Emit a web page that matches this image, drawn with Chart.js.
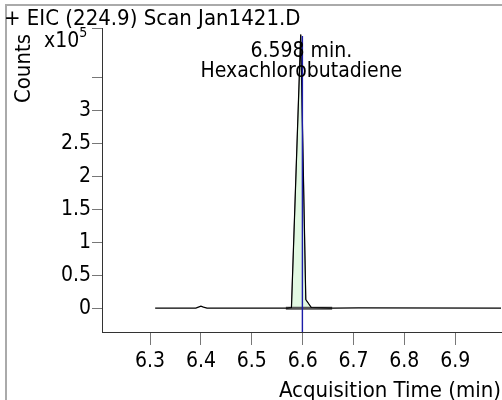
<!DOCTYPE html>
<html>
<head>
<meta charset="utf-8">
<script src="https://cdn.jsdelivr.net/npm/chart.js@4.4.0/dist/chart.umd.min.js"></script>
<style>
  html, body { margin: 0; padding: 0; background: #fff; }
  #wrap { width: 502px; height: 400px; position: relative; }
</style>
</head>
<body>
<div id="wrap"><canvas id="eic"></canvas></div>
<script>
// EIC trace, counts in units of 1e5
var times  = [6.310, 6.390, 6.395, 6.400, 6.405, 6.412, 6.570, 6.578, 6.5962, 6.6062, 6.617, 6.660, 6.710, 6.990];
var counts = [0.01, 0.01, 0.025, 0.04, 0.025, 0.01, 0.01, 0.02, 4.14, 0.14, 0.02, 0.01, 0.015, 0.01];

// integrated peak region (shaded)
var peakTimes  = [6.578, 6.5962, 6.6062, 6.617];
var peakCounts = [0.02, 4.14, 0.14, 0.02];

// integration baseline
var baseTimes  = [6.567, 6.658];
var baseCounts = [0.01, 0.01];

var peakRT = 6.5995;
var peakTop = 4.12;
var peakLabel = ['6.598 min.', 'Hexachlorobutadiene'];
var titleText = '+ EIC (224.9) Scan Jan1421.D';

var xTicks = [6.3, 6.4, 6.5, 6.6, 6.7, 6.8, 6.9];
var yTicks = [0, 0.5, 1, 1.5, 2, 2.5, 3, 3.5];
var xMin = 6.2055, xMax = 6.99;
var yMin = -0.35, yMax = 4.24;

var FONT = "'DejaVu Sans Condensed', 'DejaVu Sans', sans-serif";
var FS = 21;

function pts(xs, ys) {
  return xs.map(function(x, i){ return {x: x, y: ys[i]}; });
}

var overlay = {
  id: 'overlay',
  beforeDraw: function(chart) {
    var c = chart.ctx;
    c.save();
    c.strokeStyle = '#aaaaaa';
    c.lineWidth = 2;
    c.beginPath();
    c.moveTo(6, 400);
    c.lineTo(6, 5);
    c.lineTo(502, 5);
    c.stroke();
    c.restore();
  },
  afterDraw: function(chart) {
    var c = chart.ctx;
    var xs = chart.scales.x;
    var top = chart.chartArea.top;
    c.save();
    c.fillStyle = '#000';
    c.textBaseline = 'middle';
    c.font = '22px ' + FONT;
    c.textAlign = 'left';
    c.fillText(titleText, 4, 19);

    // y axis caption, rotated
    c.save();
    c.translate(24, top + 6);
    c.rotate(-Math.PI / 2);
    c.textAlign = 'right';
    c.fillText('Counts', 0, 0);
    c.restore();

    // exponent label
    c.font = FS + 'px ' + FONT;
    c.fillText('x10', 44, top + 14);
    var w = c.measureText('x10').width;
    c.font = '14px ' + FONT;
    c.fillText('5', 44 + w, top + 5);

    // peak annotation
    c.font = FS + 'px ' + FONT;
    c.textAlign = 'center';
    var px = xs.getPixelForValue(peakRT) - 1;
    c.fillText(peakLabel[0], px, 52);
    c.fillText(peakLabel[1], px, 72);
    c.restore();
  }
};

new Chart(document.getElementById('eic'), {
  type: 'line',
  data: {
    datasets: [
      {
        data: [{x: peakRT, y: peakTop}, {x: peakRT, y: yMin}],
        borderColor: '#1c1ca8',
        borderWidth: 1.4,
        pointRadius: 0,
        order: 0
      },
      {
        data: pts(times, counts),
        borderColor: '#000',
        borderWidth: 1.2,
        pointRadius: 0,
        order: 1
      },
      {
        data: pts(baseTimes, baseCounts),
        borderColor: '#555',
        borderWidth: 3,
        pointRadius: 0,
        order: 2
      },
      {
        data: pts(peakTimes, peakCounts),
        borderColor: '#888',
        borderWidth: 1,
        backgroundColor: '#e2f9e2',
        fill: 'origin',
        pointRadius: 0,
        order: 3
      }
    ]
  },
  options: {
    responsive: true,
    maintainAspectRatio: false,
    animation: false,
    events: [],
    layout: { padding: { left: 6, top: 28, right: 1, bottom: 0 } },
    plugins: {
      legend: { display: false },
      tooltip: { enabled: false }
    },
    scales: {
      x: {
        type: 'linear',
        min: xMin,
        max: xMax,
        afterBuildTicks: function(scale){
          scale.ticks = xTicks.map(function(v){ return {value: v}; });
        },
        afterFit: function(scale){ scale.height = 68; },
        ticks: {
          color: '#000',
          font: { family: FONT, size: FS },
          maxRotation: 0,
          padding: 4,
          callback: function(v){ return v.toFixed(1); }
        },
        grid: { drawOnChartArea: false, tickLength: 13, color: '#777' },
        border: { color: '#333' },
        title: {
          display: true,
          text: 'Acquisition Time (min)',
          align: 'end',
          color: '#000',
          font: { family: FONT, size: 22 },
          padding: { top: 0, bottom: -4 }
        }
      },
      y: {
        min: yMin,
        max: yMax,
        afterBuildTicks: function(scale){
          scale.ticks = yTicks.map(function(v){ return {value: v}; }).concat([{value: yMax}]);
        },
        afterFit: function(scale){ scale.width = 96; },
        ticks: {
          color: '#000',
          font: { family: FONT, size: FS },
          padding: 1,
          callback: function(v){ return v <= 3 ? String(v) : ''; }
        },
        grid: { drawOnChartArea: false, tickLength: 10, color: '#777' },
        border: { color: '#333' },
        title: { display: false }
      }
    }
  },
  plugins: [overlay]
});
</script>
</body>
</html>
